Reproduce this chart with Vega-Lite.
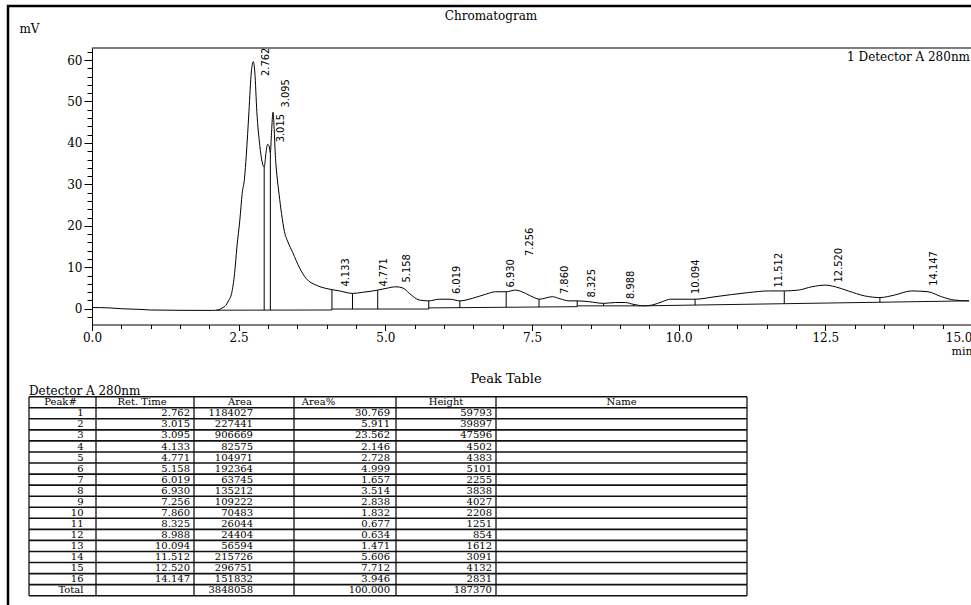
{
  "$schema": "https://vega.github.io/schema/vega-lite/v6.json",
  "width": 966,
  "height": 602,
  "padding": {"left": 8, "top": 6, "right": 0, "bottom": 0},
  "autosize": "none",
  "background": "white",
  "title": {"text": "Chromatogram", "anchor": "middle", "frame": "group", "offset": 0, "baseline": "alphabetic", "dy": 26, "font": "DejaVu Serif", "fontSize": 12, "fontWeight": "normal", "color": "#000"},
  "config": {
    "view": {"stroke": "#000", "strokeWidth": 2.5},
    "axis": {"grid": false, "domainColor": "#000", "tickColor": "#000", "labelColor": "#000", "titleColor": "#000", "labelFont": "DejaVu Serif", "titleFont": "DejaVu Serif", "labelFontSize": 12, "titleFontSize": 11, "titleFontWeight": "normal", "domainWidth": 1, "tickWidth": 1}
  },
  "datasets": {
    "curve": [
      {"t": 0.0, "mV": 0.3}, {"t": 0.3, "mV": 0.2}, {"t": 0.5, "mV": 0.0}, {"t": 0.8, "mV": -0.15}, {"t": 1.0, "mV": -0.3},
      {"t": 1.5, "mV": -0.38}, {"t": 2.05, "mV": -0.4}, {"t": 2.15, "mV": -0.3}, {"t": 2.22, "mV": 0.2}, {"t": 2.28, "mV": 0.8},
      {"t": 2.33, "mV": 2.0}, {"t": 2.38, "mV": 3.7}, {"t": 2.43, "mV": 8.5}, {"t": 2.47, "mV": 14.9}, {"t": 2.52, "mV": 21.4},
      {"t": 2.56, "mV": 27.8}, {"t": 2.6, "mV": 31.5}, {"t": 2.63, "mV": 37.0}, {"t": 2.675, "mV": 47.5}, {"t": 2.716, "mV": 57.1},
      {"t": 2.75, "mV": 59.6}, {"t": 2.775, "mV": 57.1}, {"t": 2.81, "mV": 47.5}, {"t": 2.86, "mV": 39.4}, {"t": 2.9, "mV": 35.4},
      {"t": 2.935, "mV": 34.2}, {"t": 2.965, "mV": 37.5}, {"t": 2.99, "mV": 39.6}, {"t": 3.015, "mV": 39.4}, {"t": 3.04, "mV": 37.6},
      {"t": 3.06, "mV": 42.5}, {"t": 3.085, "mV": 47.4}, {"t": 3.105, "mV": 43.5}, {"t": 3.125, "mV": 37.0}, {"t": 3.15, "mV": 32.5},
      {"t": 3.19, "mV": 27.5}, {"t": 3.23, "mV": 23.0}, {"t": 3.28, "mV": 18.6}, {"t": 3.34, "mV": 16.1}, {"t": 3.42, "mV": 13.6},
      {"t": 3.54, "mV": 9.8}, {"t": 3.65, "mV": 7.3}, {"t": 3.82, "mV": 5.7}, {"t": 3.99, "mV": 4.9}, {"t": 4.09, "mV": 4.6},
      {"t": 4.22, "mV": 4.3}, {"t": 4.44, "mV": 3.7}, {"t": 4.61, "mV": 3.95}, {"t": 4.87, "mV": 4.5}, {"t": 5.01, "mV": 4.9},
      {"t": 5.18, "mV": 5.3}, {"t": 5.3, "mV": 5.0}, {"t": 5.41, "mV": 3.7}, {"t": 5.58, "mV": 2.1}, {"t": 5.74, "mV": 1.9},
      {"t": 5.92, "mV": 2.3}, {"t": 6.1, "mV": 2.3}, {"t": 6.27, "mV": 1.9}, {"t": 6.48, "mV": 2.5}, {"t": 6.71, "mV": 3.5},
      {"t": 6.88, "mV": 4.1}, {"t": 7.06, "mV": 4.1}, {"t": 7.22, "mV": 4.5}, {"t": 7.39, "mV": 3.7}, {"t": 7.55, "mV": 2.6},
      {"t": 7.62, "mV": 2.3}, {"t": 7.85, "mV": 2.9}, {"t": 7.98, "mV": 2.4}, {"t": 8.13, "mV": 1.9}, {"t": 8.27, "mV": 1.9},
      {"t": 8.47, "mV": 1.7}, {"t": 8.72, "mV": 1.3}, {"t": 8.92, "mV": 1.5}, {"t": 9.09, "mV": 1.5}, {"t": 9.23, "mV": 1.06},
      {"t": 9.4, "mV": 0.7}, {"t": 9.55, "mV": 0.9}, {"t": 9.72, "mV": 1.7}, {"t": 9.86, "mV": 2.3}, {"t": 10.28, "mV": 2.3},
      {"t": 10.62, "mV": 2.9}, {"t": 11.19, "mV": 3.9}, {"t": 11.53, "mV": 4.3}, {"t": 11.8, "mV": 4.3}, {"t": 12.04, "mV": 4.5},
      {"t": 12.27, "mV": 5.3}, {"t": 12.5, "mV": 5.7}, {"t": 12.67, "mV": 5.3}, {"t": 12.89, "mV": 4.3}, {"t": 13.17, "mV": 3.1},
      {"t": 13.43, "mV": 2.7}, {"t": 13.68, "mV": 3.3}, {"t": 13.97, "mV": 4.3}, {"t": 14.25, "mV": 4.1}, {"t": 14.48, "mV": 2.9},
      {"t": 14.7, "mV": 2.1}, {"t": 14.95, "mV": 1.9}
    ],
    "peaks": [
      {"pk": "1", "n": 1, "rt": 2.762, "area": 1184027, "pct": 30.769, "height": 59793, "ly": 55.9},
      {"pk": "2", "n": 2, "rt": 3.015, "area": 227441, "pct": 5.911, "height": 39897, "ly": 39.9},
      {"pk": "3", "n": 3, "rt": 3.095, "area": 906669, "pct": 23.562, "height": 47596, "ly": 48.3},
      {"pk": "4", "n": 4, "rt": 4.133, "area": 82575, "pct": 2.146, "height": 4502, "ly": 5.1},
      {"pk": "5", "n": 5, "rt": 4.771, "area": 104971, "pct": 2.728, "height": 4383, "ly": 5.1},
      {"pk": "6", "n": 6, "rt": 5.158, "area": 192364, "pct": 4.999, "height": 5101, "ly": 6.1},
      {"pk": "7", "n": 7, "rt": 6.019, "area": 63745, "pct": 1.657, "height": 2255, "ly": 3.3},
      {"pk": "8", "n": 8, "rt": 6.93, "area": 135212, "pct": 3.514, "height": 3838, "ly": 4.9},
      {"pk": "9", "n": 9, "rt": 7.256, "area": 109222, "pct": 2.838, "height": 4027, "ly": 12.5},
      {"pk": "10", "n": 10, "rt": 7.86, "area": 70483, "pct": 1.832, "height": 2208, "ly": 3.3},
      {"pk": "11", "n": 11, "rt": 8.325, "area": 26044, "pct": 0.677, "height": 1251, "ly": 2.5},
      {"pk": "12", "n": 12, "rt": 8.988, "area": 24404, "pct": 0.634, "height": 854, "ly": 2.1},
      {"pk": "13", "n": 13, "rt": 10.094, "area": 56594, "pct": 1.471, "height": 1612, "ly": 3.3},
      {"pk": "14", "n": 14, "rt": 11.512, "area": 215726, "pct": 5.606, "height": 3091, "ly": 4.9},
      {"pk": "15", "n": 15, "rt": 12.52, "area": 296751, "pct": 7.712, "height": 4132, "ly": 6.1},
      {"pk": "16", "n": 16, "rt": 14.147, "area": 151832, "pct": 3.946, "height": 2831, "ly": 5.3},
      {"pk": "Total", "n": 17, "area": 3848058, "pct": 100.0, "height": 187370}
    ],
    "bl": [
      {"t0": 2.12, "v0": -0.35, "t1": 4.09, "v1": -0.3},
      {"t0": 4.09, "v0": -0.07, "t1": 5.74, "v1": -0.07},
      {"t0": 5.74, "v0": 0.2, "t1": 8.27, "v1": 0.5},
      {"t0": 8.27, "v0": 0.7, "t1": 9.4, "v1": 0.7},
      {"t0": 9.4, "v0": 0.7, "t1": 14.95, "v1": 1.9}
    ],
    "dl": [
      {"t": 2.935, "v0": -0.35, "v1": 34.2},
      {"t": 3.04, "v0": -0.33, "v1": 37.6},
      {"t": 4.09, "v0": -0.3, "v1": 4.6},
      {"t": 4.44, "v0": -0.07, "v1": 3.7},
      {"t": 4.87, "v0": -0.07, "v1": 4.5},
      {"t": 5.74, "v0": -0.07, "v1": 1.9},
      {"t": 6.27, "v0": 0.26, "v1": 1.9},
      {"t": 7.06, "v0": 0.36, "v1": 4.1},
      {"t": 7.62, "v0": 0.42, "v1": 2.3},
      {"t": 8.27, "v0": 0.5, "v1": 1.9},
      {"t": 8.72, "v0": 0.7, "v1": 1.3},
      {"t": 9.23, "v0": 0.7, "v1": 1.06},
      {"t": 10.28, "v0": 0.89, "v1": 2.3},
      {"t": 11.8, "v0": 1.22, "v1": 4.3},
      {"t": 13.43, "v0": 1.57, "v1": 2.7}
    ],
    "hl": [{"r": 0}, {"r": 1}, {"r": 2}, {"r": 3}, {"r": 4}, {"r": 5}, {"r": 6}, {"r": 7}, {"r": 8}, {"r": 9}, {"r": 10}, {"r": 11}, {"r": 12}, {"r": 13}, {"r": 14}, {"r": 15}, {"r": 16}, {"r": 17}, {"r": 18}],
    "vl": [{"c": 0}, {"c": 1}, {"c": 2}, {"c": 3}, {"c": 4}, {"c": 5}, {"c": 6}],
    "det": [{"s": "1 Detector A 280nm"}]
  },
  "layer": [
    {
      "layer": [
        {
          "data": {"name": "curve"},
          "mark": {"type": "line", "color": "#000", "strokeWidth": 1, "interpolate": "monotone"},
          "encoding": {
            "x": {"field": "t", "type": "quantitative",
                  "scale": {"domain": [0, 15], "range": [84, 964], "nice": false, "zero": false},
                  "axis": {"orient": "bottom", "offset": -283.5, "values": [0, 2.5, 5, 7.5, 10, 12.5, 15], "format": ".1f", "tickSize": 6, "labelPadding": 2, "labelOverlap": false, "labelBound": false,
                           "labelAlign": {"condition": {"test": "datum.value == 15", "value": "right"}, "value": "center"},
                           "title": "min", "titleAnchor": "end", "titleAlign": "right", "titlePadding": 2, "titleBaseline": "top"}},
            "y": {"field": "mV", "type": "quantitative",
                  "scale": {"domain": [-3.8, 62.9], "range": [318.5, 42], "nice": false, "zero": false},
                  "axis": {"orient": "left", "offset": -84, "values": [0, 10, 20, 30, 40, 50, 60], "tickSize": 8, "labelPadding": 2,
                           "title": "mV", "titleAngle": 0, "titleX": -63, "titleY": 22, "titleAlign": "center", "titleBaseline": "middle", "titleFontSize": 12}}
          }
        },
        {
          "data": {"name": "bl"},
          "mark": {"type": "rule", "color": "#111", "strokeWidth": 1},
          "encoding": {
            "x": {"field": "t0", "type": "quantitative", "axis": null},
            "x2": {"field": "t1"},
            "y": {"field": "v0", "type": "quantitative", "axis": null},
            "y2": {"field": "v1"}
          }
        },
        {
          "data": {"name": "dl"},
          "mark": {"type": "rule", "color": "#000", "strokeWidth": 1},
          "encoding": {
            "x": {"field": "t", "type": "quantitative", "axis": null},
            "y": {"field": "v0", "type": "quantitative", "axis": null},
            "y2": {"field": "v1"}
          }
        },
        {
          "data": {"name": "peaks"},
          "transform": [{"filter": "isValid(datum.rt)"}],
          "mark": {"type": "text", "angle": 270, "align": "left", "baseline": "middle", "dx": 1, "dy": 12, "font": "DejaVu Sans Condensed, Liberation Sans Narrow, DejaVu Sans", "fontSize": 11, "color": "#000"},
          "encoding": {
            "x": {"field": "rt", "type": "quantitative", "axis": null},
            "y": {"field": "ly", "type": "quantitative", "axis": null},
            "text": {"field": "rt", "type": "quantitative", "format": ".3f"}
          }
        },
        {
          "data": {"name": "det"},
          "mark": {"type": "rule", "color": "#000", "strokeWidth": 1},
          "encoding": {
            "x": {"datum": 0, "type": "quantitative",
                  "axis": {"orient": "bottom", "offset": -283.5, "values": [0, 0.5, 1, 1.5, 2, 2.5, 3, 3.5, 4, 4.5, 5, 5.5, 6, 6.5, 7, 7.5, 8, 8.5, 9, 9.5, 10, 10.5, 11, 11.5, 12, 12.5, 13, 13.5, 14, 14.5, 15], "tickSize": 4, "labels": false, "domain": false, "title": null}},
            "x2": {"datum": 15},
            "y": {"datum": 62.9, "type": "quantitative",
                  "axis": {"orient": "left", "offset": -84, "values": [-2, 0, 2, 4, 6, 8, 10, 12, 14, 16, 18, 20, 22, 24, 26, 28, 30, 32, 34, 36, 38, 40, 42, 44, 46, 48, 50, 52, 54, 56, 58, 60, 62], "tickSize": 5, "labels": false, "domain": false, "title": null}}
          }
        },
        {
          "data": {"name": "det"},
          "mark": {"type": "text", "align": "right", "baseline": "alphabetic", "dx": -2, "dy": 1, "font": "DejaVu Serif", "fontSize": 12, "color": "#000"},
          "encoding": {
            "x": {"datum": 15, "type": "quantitative", "axis": null},
            "y": {"datum": 60, "type": "quantitative", "axis": null},
            "text": {"field": "s"}
          }
        }
      ],
      "resolve": {"axis": {"x": "independent", "y": "independent"}}
    },
    {
      "layer": [
        {
          "data": {"name": "hl"},
          "mark": {"type": "rule", "color": "#111", "strokeWidth": 1.6},
          "encoding": {
            "x": {"datum": 0, "type": "quantitative", "scale": {"domain": [0, 1, 2, 3, 4, 5, 6], "range": [21, 88, 186, 286, 388, 488, 739], "nice": false, "zero": false}, "axis": null},
            "x2": {"datum": 6},
            "y": {"field": "r", "type": "quantitative", "scale": {"domain": [0, 18], "range": [390.7, 589.7], "nice": false, "zero": false}, "axis": null}
          }
        },
        {
          "data": {"name": "vl"},
          "mark": {"type": "rule", "color": "#111", "strokeWidth": 1.3},
          "encoding": {
            "x": {"field": "c", "type": "quantitative", "axis": null},
            "y": {"datum": 0, "type": "quantitative", "axis": null},
            "y2": {"datum": 18}
          }
        },
        {
          "data": {"name": "peaks"},
          "mark": {"type": "text", "align": "right", "baseline": "alphabetic", "dx": -12.5, "dy": 8.6, "font": "DejaVu Serif", "fontSize": 10, "color": "#000"},
          "encoding": {"x": {"datum": 1, "type": "quantitative", "axis": null}, "y": {"field": "n", "type": "quantitative", "axis": null}, "text": {"field": "pk"}}
        },
        {
          "data": {"name": "peaks"},
          "transform": [{"filter": "isValid(datum.rt)"}],
          "mark": {"type": "text", "align": "right", "baseline": "alphabetic", "dx": -4, "dy": 8.6, "font": "DejaVu Serif", "fontSize": 10, "color": "#000"},
          "encoding": {"x": {"datum": 2, "type": "quantitative", "axis": null}, "y": {"field": "n", "type": "quantitative", "axis": null}, "text": {"field": "rt", "type": "quantitative", "format": ".3f"}}
        },
        {
          "data": {"name": "peaks"},
          "mark": {"type": "text", "align": "right", "baseline": "alphabetic", "dx": -41, "dy": 8.6, "font": "DejaVu Serif", "fontSize": 10, "color": "#000"},
          "encoding": {"x": {"datum": 3, "type": "quantitative", "axis": null}, "y": {"field": "n", "type": "quantitative", "axis": null}, "text": {"field": "area", "type": "quantitative", "format": "d"}}
        },
        {
          "data": {"name": "peaks"},
          "mark": {"type": "text", "align": "right", "baseline": "alphabetic", "dx": -6, "dy": 8.6, "font": "DejaVu Serif", "fontSize": 10, "color": "#000"},
          "encoding": {"x": {"datum": 4, "type": "quantitative", "axis": null}, "y": {"field": "n", "type": "quantitative", "axis": null}, "text": {"field": "pct", "type": "quantitative", "format": ".3f"}}
        },
        {
          "data": {"name": "peaks"},
          "mark": {"type": "text", "align": "right", "baseline": "alphabetic", "dx": -4, "dy": 8.6, "font": "DejaVu Serif", "fontSize": 10, "color": "#000"},
          "encoding": {"x": {"datum": 5, "type": "quantitative", "axis": null}, "y": {"field": "n", "type": "quantitative", "axis": null}, "text": {"field": "height", "type": "quantitative", "format": "d"}}
        },
        {
          "data": {"values": [{"h": "Peak#"}]},
          "mark": {"type": "text", "align": "center", "baseline": "alphabetic", "dy": 8.3, "font": "DejaVu Serif", "fontSize": 10, "color": "#000"},
          "encoding": {"x": {"datum": 0.47, "type": "quantitative", "axis": null}, "y": {"datum": 0, "type": "quantitative", "axis": null}, "text": {"field": "h"}}
        },
        {
          "data": {"values": [{"h": "Ret. Time"}]},
          "mark": {"type": "text", "align": "center", "baseline": "alphabetic", "dy": 8.3, "font": "DejaVu Serif", "fontSize": 10, "color": "#000"},
          "encoding": {"x": {"datum": 1.47, "type": "quantitative", "axis": null}, "y": {"datum": 0, "type": "quantitative", "axis": null}, "text": {"field": "h"}}
        },
        {
          "data": {"values": [{"h": "Area"}]},
          "mark": {"type": "text", "align": "center", "baseline": "alphabetic", "dy": 8.3, "font": "DejaVu Serif", "fontSize": 10, "color": "#000"},
          "encoding": {"x": {"datum": 2.46, "type": "quantitative", "axis": null}, "y": {"datum": 0, "type": "quantitative", "axis": null}, "text": {"field": "h"}}
        },
        {
          "data": {"values": [{"h": "Area%"}]},
          "mark": {"type": "text", "align": "center", "baseline": "alphabetic", "dy": 8.3, "font": "DejaVu Serif", "fontSize": 10, "color": "#000"},
          "encoding": {"x": {"datum": 3.24, "type": "quantitative", "axis": null}, "y": {"datum": 0, "type": "quantitative", "axis": null}, "text": {"field": "h"}}
        },
        {
          "data": {"values": [{"h": "Height"}]},
          "mark": {"type": "text", "align": "center", "baseline": "alphabetic", "dy": 8.3, "font": "DejaVu Serif", "fontSize": 10, "color": "#000"},
          "encoding": {"x": {"datum": 4.5, "type": "quantitative", "axis": null}, "y": {"datum": 0, "type": "quantitative", "axis": null}, "text": {"field": "h"}}
        },
        {
          "data": {"values": [{"h": "Name"}]},
          "mark": {"type": "text", "align": "center", "baseline": "alphabetic", "dy": 8.3, "font": "DejaVu Serif", "fontSize": 10, "color": "#000"},
          "encoding": {"x": {"datum": 5.5, "type": "quantitative", "axis": null}, "y": {"datum": 0, "type": "quantitative", "axis": null}, "text": {"field": "h"}}
        },
        {
          "data": {"values": [{"s": "Detector A 280nm"}]},
          "mark": {"type": "text", "align": "left", "baseline": "alphabetic", "dy": -2, "font": "DejaVu Serif", "fontSize": 12, "color": "#000"},
          "encoding": {"x": {"datum": 0, "type": "quantitative", "axis": null}, "y": {"datum": 0, "type": "quantitative", "axis": null}, "text": {"field": "s"}}
        },
        {
          "data": {"values": [{"s": "Peak Table"}]},
          "mark": {"type": "text", "align": "center", "baseline": "alphabetic", "font": "DejaVu Serif", "fontSize": 13, "color": "#000"},
          "encoding": {"x": {"datum": 5.04, "type": "quantitative", "axis": null}, "y": {"datum": -1.2, "type": "quantitative", "axis": null}, "text": {"field": "s"}}
        }
      ]
    }
  ],
  "resolve": {"scale": {"x": "independent", "y": "independent"}}
}
